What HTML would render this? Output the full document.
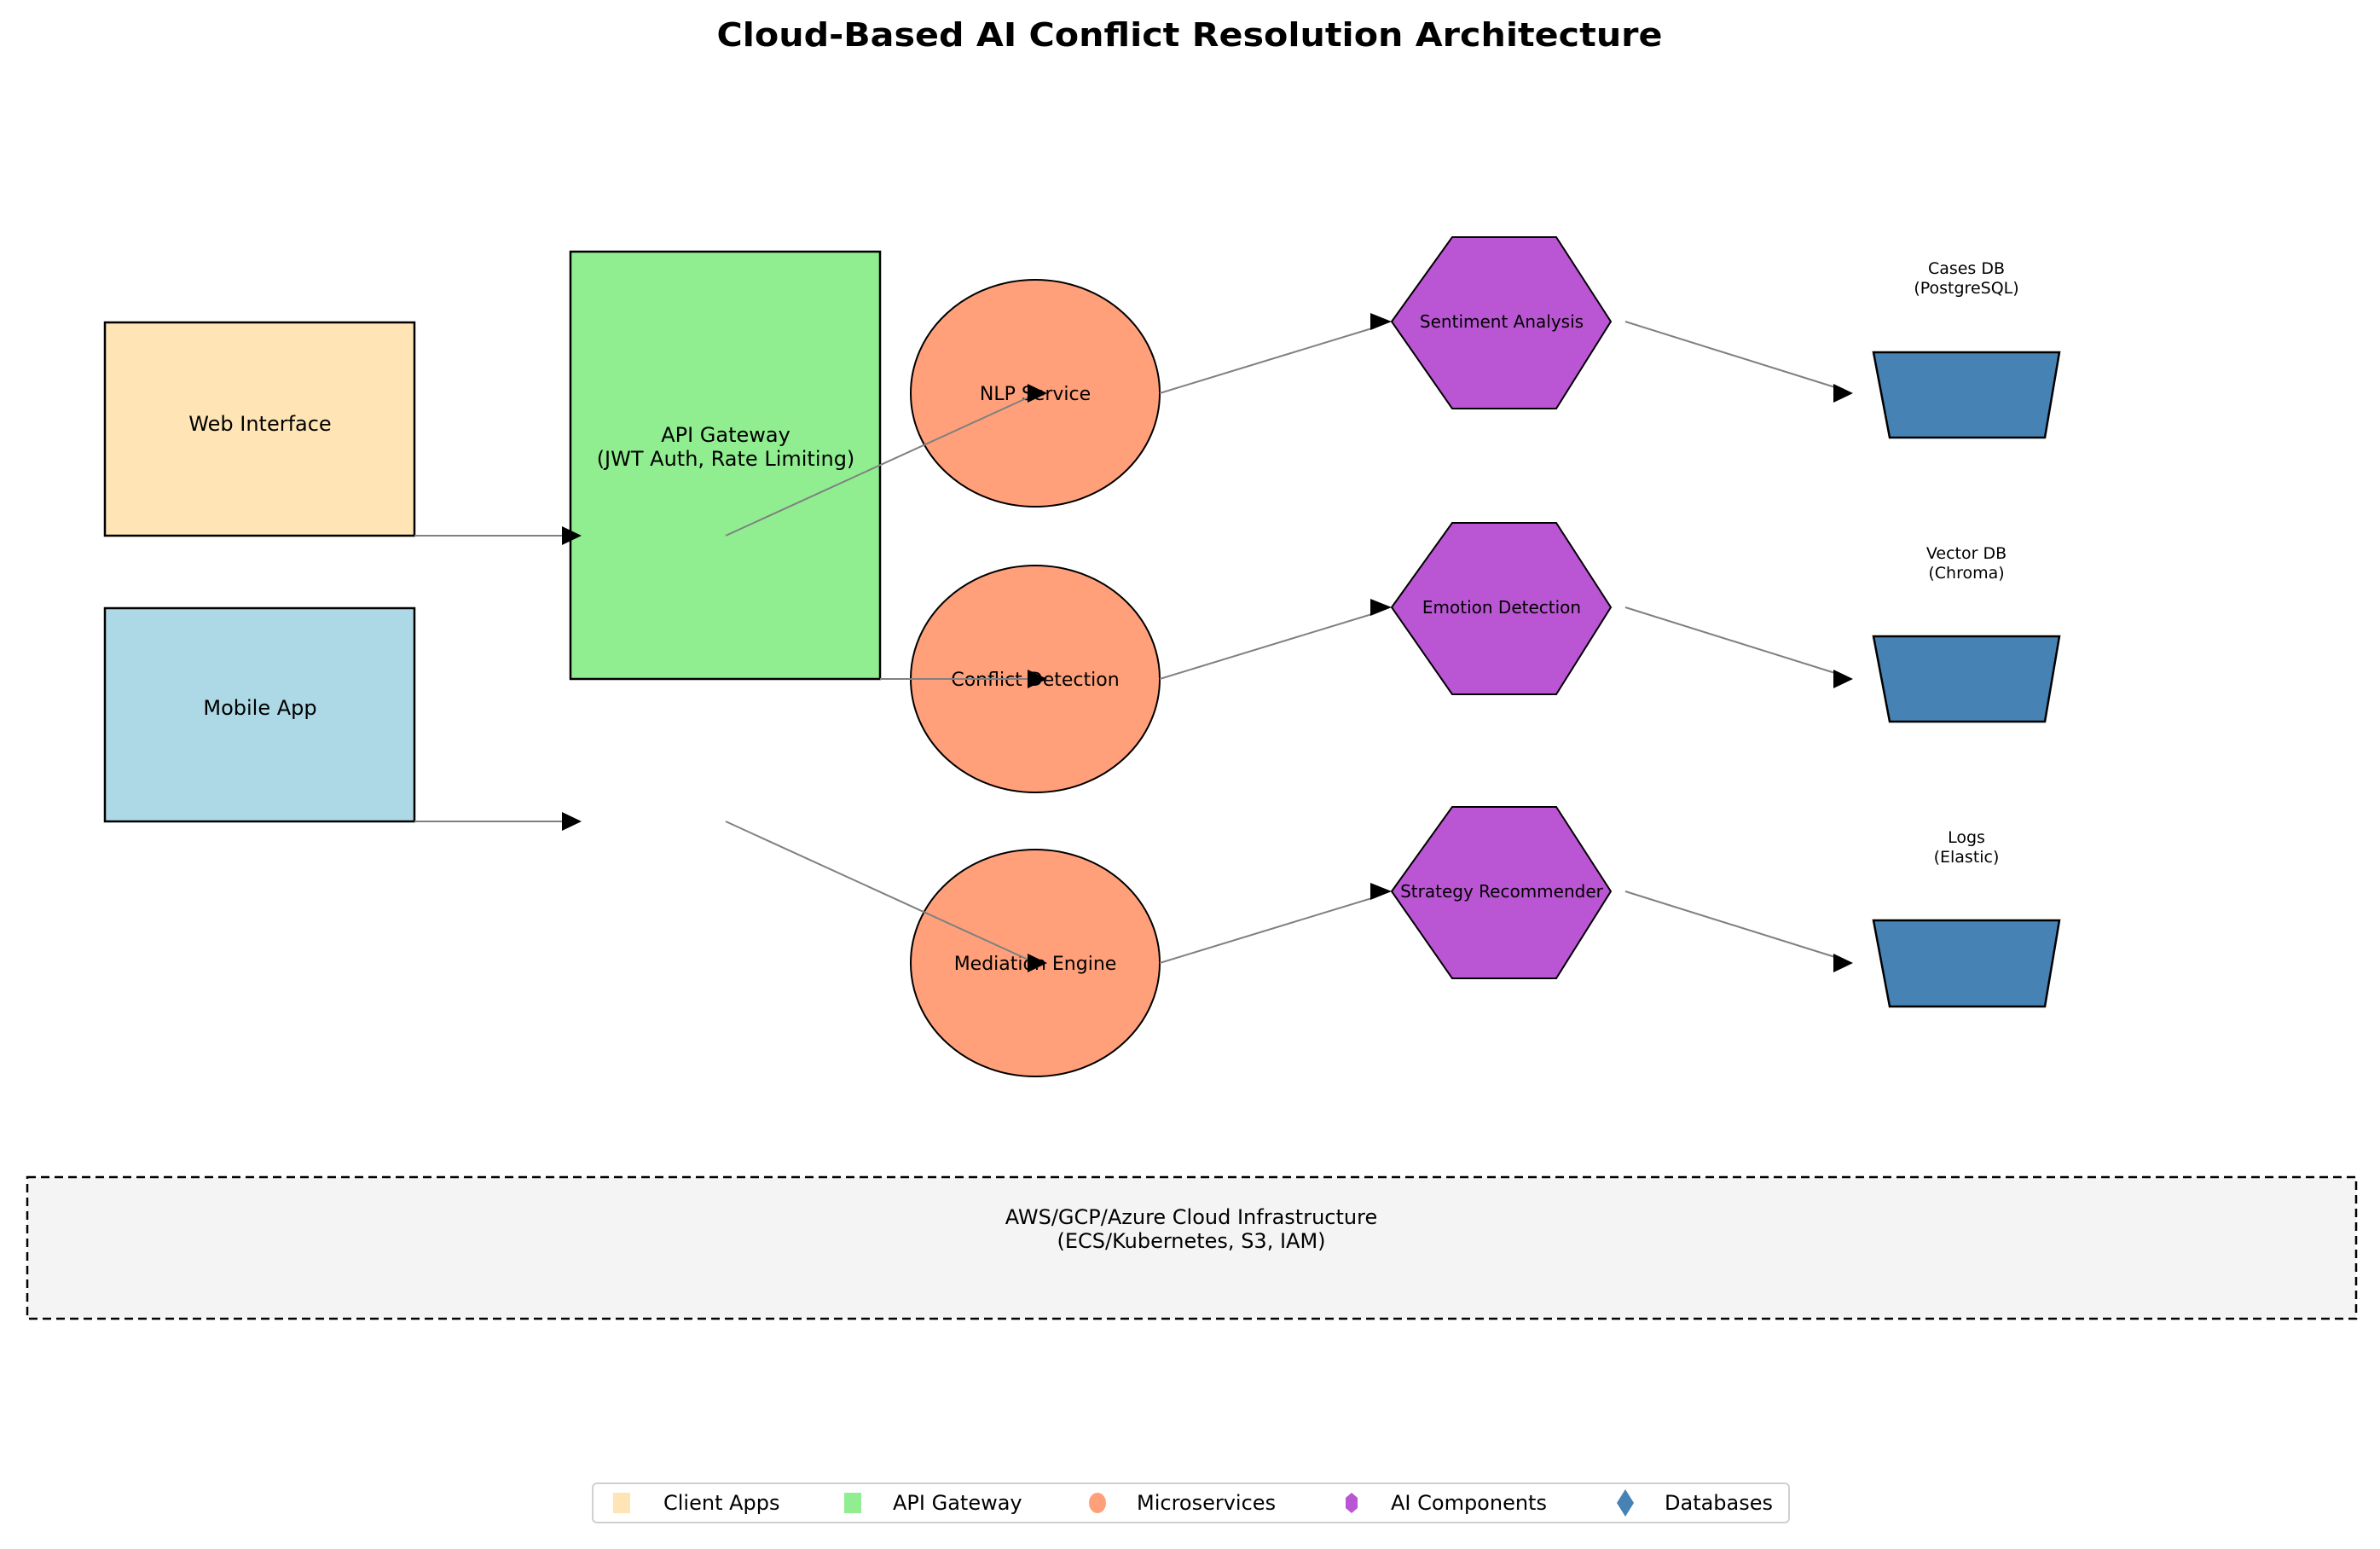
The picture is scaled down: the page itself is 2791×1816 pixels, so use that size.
<!DOCTYPE html>
<html><head><meta charset="utf-8"><style>html,body{margin:0;padding:0;background:#fff}svg{display:block}</style></head>
<body>
<svg width="2791" height="1816" viewBox="0 0 2791 1816" xmlns="http://www.w3.org/2000/svg" font-family="'DejaVu Sans','Liberation Sans',sans-serif">
<text x="1395" y="54" text-anchor="middle" font-weight="bold" font-size="38" textLength="1109" lengthAdjust="spacingAndGlyphs">Cloud-Based AI Conflict Resolution Architecture</text>

<rect x="123" y="378" width="363" height="250" fill="#ffe4b5" stroke="#000" stroke-width="2.5"/>
<text x="305" y="505" text-anchor="middle" font-size="24">Web Interface</text>
<rect x="123" y="713" width="363" height="250" fill="#add8e6" stroke="#000" stroke-width="2.5"/>
<text x="305" y="838" text-anchor="middle" font-size="24">Mobile App</text>

<rect x="669" y="295" width="363" height="501" fill="#90ee90" stroke="#000" stroke-width="2.5"/>
<text x="851" y="518" text-anchor="middle" font-size="24">API Gateway</text>
<text x="851" y="546" text-anchor="middle" font-size="24">(JWT Auth, Rate Limiting)</text>

<g fill="#ffa07a" stroke="#000" stroke-width="2">
<ellipse cx="1214" cy="461" rx="146" ry="133"/>
<ellipse cx="1214" cy="796" rx="146" ry="133"/>
<ellipse cx="1214" cy="1129" rx="146" ry="133"/>
</g>
<g font-size="22" text-anchor="middle">
<text x="1214" y="469">NLP Service</text>
<text x="1214" y="804">Conflict Detection</text>
<text x="1214" y="1137">Mediation Engine</text>
</g>

<g fill="#ba55d3" stroke="#000" stroke-width="2">
<polygon points="1632,377 1703,278 1825,278 1889,377 1825,479 1703,479"/>
<polygon points="1632,712 1703,613 1825,613 1889,712 1825,814 1703,814"/>
<polygon points="1632,1045 1703,946 1825,946 1889,1045 1825,1147 1703,1147"/>
</g>
<g font-size="20" text-anchor="middle">
<text x="1761" y="384">Sentiment Analysis</text>
<text x="1761" y="719">Emotion Detection</text>
<text x="1761" y="1052">Strategy Recommender</text>
</g>

<g fill="#4682b4" stroke="#000" stroke-width="2.5">
<polygon points="2197,413 2415,413 2398,513 2216,513"/>
<polygon points="2197,746 2415,746 2398,846 2216,846"/>
<polygon points="2197,1079 2415,1079 2398,1180 2216,1180"/>
</g>
<g font-size="19" text-anchor="middle">
<text x="2306" y="321">Cases DB</text><text x="2306" y="344">(PostgreSQL)</text>
<text x="2306" y="655">Vector DB</text><text x="2306" y="678">(Chroma)</text>
<text x="2306" y="988">Logs</text><text x="2306" y="1011">(Elastic)</text>
</g>

<g stroke="#808080" stroke-width="2" fill="none">
<line x1="486" y1="628" x2="665" y2="628"/>
<line x1="486" y1="963" x2="665" y2="963"/>
<line x1="851" y1="628" x2="1210" y2="464"/>
<line x1="1032" y1="796" x2="1210" y2="796"/>
<line x1="851" y1="963" x2="1210" y2="1127"/>
<line x1="1360" y1="461" x2="1612" y2="384"/>
<line x1="1360" y1="796" x2="1612" y2="719"/>
<line x1="1360" y1="1129" x2="1612" y2="1052"/>
<line x1="1906" y1="377" x2="2155" y2="455"/>
<line x1="1906" y1="712" x2="2155" y2="790"/>
<line x1="1906" y1="1045" x2="2155" y2="1123"/>
</g>
<g fill="#000">
<polygon points="659,617 682,628 659,639"/>
<polygon points="659,952 682,963 659,974"/>
<polygon points="1205,450 1228,461 1205,472"/>
<polygon points="1205,785 1228,796 1205,807"/>
<polygon points="1205,1118 1228,1129 1205,1140"/>
<polygon points="1607,367 1632,377 1607,387"/>
<polygon points="1607,702 1632,712 1607,722"/>
<polygon points="1607,1035 1632,1045 1607,1055"/>
<polygon points="2150,450 2173,461 2150,472"/>
<polygon points="2150,785 2173,796 2150,807"/>
<polygon points="2150,1118 2173,1129 2150,1140"/>
</g>

<rect x="32" y="1380" width="2731" height="166" fill="#f4f4f4" stroke="#000" stroke-width="2.5" stroke-dasharray="10,6"/>
<text x="1397" y="1435" text-anchor="middle" font-size="24">AWS/GCP/Azure Cloud Infrastructure</text>
<text x="1397" y="1463" text-anchor="middle" font-size="24">(ECS/Kubernetes, S3, IAM)</text>

<rect x="695" y="1739" width="1403" height="46" rx="5" fill="#fff" stroke="#d0d0d0" stroke-width="2"/>
<rect x="719" y="1750" width="20" height="24" fill="#ffe4b5"/>
<text x="778" y="1770" font-size="24">Client Apps</text>
<rect x="990" y="1750" width="20" height="24" fill="#90ee90"/>
<text x="1047" y="1770" font-size="24">API Gateway</text>
<ellipse cx="1287" cy="1762" rx="10" ry="12" fill="#ffa07a"/>
<text x="1333" y="1770" font-size="24">Microservices</text>
<polygon points="1585,1750 1592,1756 1592,1768 1585,1774 1578,1768 1578,1756" fill="#ba55d3"/>
<text x="1631" y="1770" font-size="24">AI Components</text>
<polygon points="1906,1746 1916,1762 1906,1778 1896,1762" fill="#4682b4"/>
<text x="1952" y="1770" font-size="24">Databases</text>
</svg>
</body></html>
